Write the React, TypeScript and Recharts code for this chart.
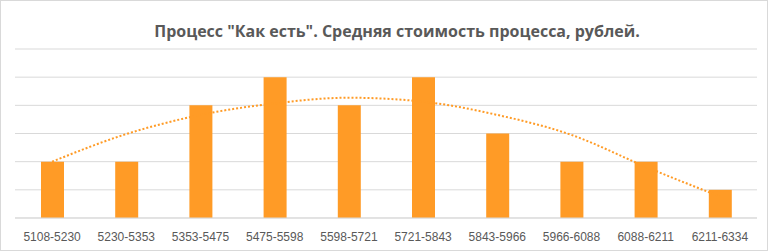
import React from 'react';
import { ComposedChart, Bar, Line, XAxis, YAxis, CartesianGrid } from 'recharts';

const ranges = [
  '5108-5230', '5230-5353', '5353-5475', '5475-5598', '5598-5721',
  '5721-5843', '5843-5966', '5966-6088', '6088-6211', '6211-6334',
];
const counts = [2, 2, 4, 5, 4, 5, 3, 2, 2, 1];
// polynomial trend line
const trend = [2.0, 2.98, 3.66, 4.07, 4.27, 4.13, 3.66, 2.95, 1.82, 0.76];
const yTicks = [0, 1, 2, 3, 4, 5, 6];

const chartData = ranges.map((range, i) => ({ range, count: counts[i], trend: trend[i] }));

const ORANGE = '#FF9B26';
const GRID = '#D9D9D9';
const TEXT = '#595959';

const App: React.FC = () => {
  return (
    <div style={{ position: 'fixed', left: 0, top: 0, width: 772, height: 252, background: '#fff' }}>
      <div
        style={{
          position: 'absolute',
          left: 0,
          top: 0,
          width: 766,
          height: 249,
          border: `1px solid ${GRID}`,
        }}
      />
      <div
        style={{
          position: 'absolute',
          left: 0,
          top: 20,
          width: 794,
          textAlign: 'center',
          fontFamily: '"Liberation Sans Narrow", "Open Sans", sans-serif',
          fontWeight: 'bold',
          fontSize: 16,
          color: TEXT,
          whiteSpace: 'nowrap',
        }}
      >
        Процесс "Как есть". Средняя стоимость процесса, рублей.
      </div>
      <ComposedChart
        width={772}
        height={252}
        data={chartData}
        margin={{ top: 49, right: 15, bottom: 4, left: 15 }}
        style={{ position: 'absolute', left: 0, top: 0 }}
      >
        <CartesianGrid vertical={false} stroke={GRID} />
        <XAxis
          dataKey="range"
          height={30}
          axisLine={{ stroke: GRID }}
          tickLine={false}
          tickMargin={8}
          interval={0}
          tick={{ fill: TEXT, fontSize: 12, fontFamily: '"Liberation Sans", sans-serif' }}
        />
        <YAxis hide domain={[0, 6]} ticks={yTicks} />
        <Bar dataKey="count" fill={ORANGE} barSize={23} isAnimationActive={false} />
        <Line
          dataKey="trend"
          type="monotone"
          stroke={ORANGE}
          strokeWidth={2}
          strokeDasharray="2 2"
          dot={false}
          isAnimationActive={false}
        />
      </ComposedChart>
    </div>
  );
};

export default App;
